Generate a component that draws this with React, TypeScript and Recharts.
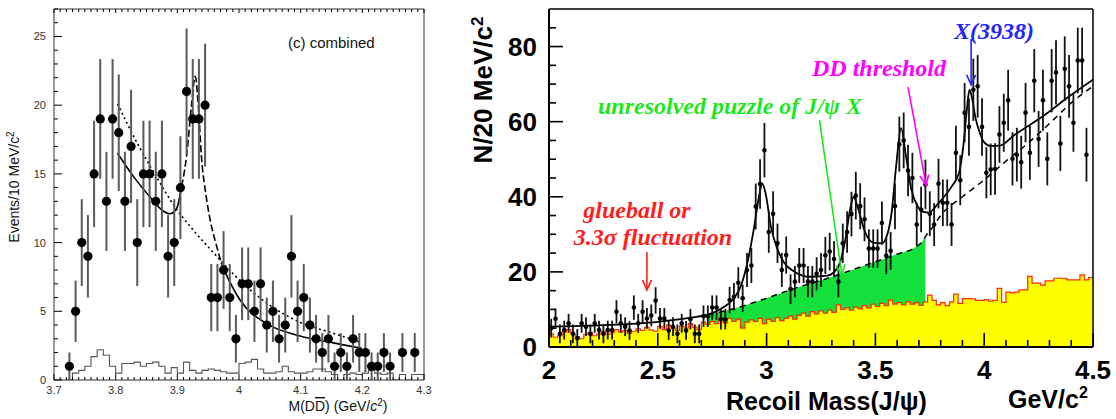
import React from 'react';
import { ComposedChart, XAxis, YAxis, Line, Area, Scatter, ErrorBar } from 'recharts';

const SANS = '"Liberation Sans", Arial, Helvetica, sans-serif';
const SERIF = '"Liberation Serif", "Times New Roman", serif';

// ---------- left panel: M(D Dbar), combined, 10 MeV/c^2 bins ----------
const leftMass = [
  3.725, 3.735, 3.745, 3.755, 3.765, 3.775, 3.785, 3.795, 3.805, 3.815,
  3.825, 3.835, 3.845, 3.855, 3.865, 3.875, 3.885, 3.895, 3.905, 3.915,
  3.925, 3.935, 3.945, 3.955, 3.965, 3.975, 3.985, 3.995, 4.005, 4.015,
  4.025, 4.035, 4.045, 4.055, 4.065, 4.075, 4.085, 4.095, 4.105, 4.115,
  4.125, 4.135, 4.145, 4.155, 4.165, 4.175, 4.185, 4.195, 4.205, 4.215,
  4.225, 4.235, 4.245, 4.265, 4.285,
];
const leftEvents = [
  1, 5, 10, 9, 15, 19, 13, 19, 18, 13,
  17, 10, 15, 15, 13, 15, 9, 10, 14, 21,
  19, 19, 20, 6, 6, 8, 6, 3, 7, 7,
  5, 7, 4, 5, 3, 4, 9, 5, 6, 4,
  3, 2, 3, 1, 2, 1, 3, 2, 2, 1,
  1, 2, 1, 2, 2,
];
// sideband histogram, bins from 3.72 in 10 MeV steps
const leftSideband = [
  0, 0.5, 0.7, 1.0, 1.7, 2.2, 1.8, 1.0, 0.5, 1.2,
  1.2, 1.3, 1.0, 1.2, 1.3, 1.0, 0.5, 0.9, 0.5, 1.3,
  0.7, 0.5, 0.7, 0.8, 0.7, 0.6, 0.5, 0.5, 1.2, 1.3,
  1.5, 0.8, 0.5, 0.5, 0.6, 1.0, 0.6, 0.5, 0.5, 0.6,
  0.8, 0.8, 0.6, 0.4, 0, 0.4, 0.5, 0.4, 0.5, 0.7,
  0.5, 0.4, 0.5, 0, 0.4, 0, 0.4, 0.4,
];
const leftFitLowX = [3.803, 3.829, 3.856, 3.877, 3.888, 3.899, 3.907];
const leftFitLowY = [16.5, 14.8, 13.3, 12.3, 12.1, 12.5, 14.1];
const leftFitPeakX = [3.907, 3.915, 3.923, 3.929, 3.934, 3.939, 3.946, 3.953, 3.964, 3.972];
const leftFitPeakY = [14.1, 16.3, 20.0, 22.1, 20.0, 16.3, 13.6, 11.7, 9.7, 8.4];
const leftFitTailX = [3.972, 3.976, 4.002, 4.045, 4.099, 4.153, 4.199];
const leftFitTailY = [8.4, 8.0, 5.8, 4.1, 3.2, 2.7, 2.3];
const leftAltX = [3.803, 3.839, 3.866, 3.893, 3.926, 3.96, 4.0, 4.045, 4.099, 4.153, 4.199];
const leftAltY = [20.1, 16.9, 14.8, 12.8, 10.9, 9.2, 7.3, 5.6, 4.2, 3.4, 2.7];

const leftXMajor = [3.7, 3.8, 3.9, 4.0, 4.1, 4.2, 4.3];
const leftYMajor = [0, 5, 10, 15, 20, 25];

// ---------- right panel: recoil mass against J/psi, 20 MeV/c^2 bins from 2.00 ----------
const rightEvents: (number | null)[] = [
  5, 7.5, 3.5, 4.5, 6.3, 3.5, 2.3, 6.3, 5.4, 3.5,
  6.3, 4.5, 3.5, 4.5, 4.5, 9.4, 6.3, 5.4, 4.4, 10.5,
  6.3, 9.4, 7.6, 8.4, 12.4, 7.6, 7.6, 4.4, 5.4, 3.5,
  6.3, 4.4, 7.4, 3.5, 3.5, 8.2, 8.2, 10.5, 10.5, 7.4,
  7.4, 12.5, 13.4, 17.1, 13, 20.5, 21.7, 37.4, 43.4, 52.4,
  30.6, 35.5, 27.6, 20.5, 24.5, 15.4, 17.4, 21.7, 21.7, 17.4,
  17.4, 19.5, 20.5, 24.4, 25.4, 23.4, 17.4, 27.6, 30.6, 35.4,
  40.3, 37.5, 34, 26.2, 26.2, 26.2, 33, 24.3, 25.6, 37.5,
  54, 55, 47, 45, 32.6, 36.6, 43.3, 35.5, 32.6, 43.5,
  38.4, 38.4, 32.6, 51.7, 44.4, 62.4, 58.6, 68.5, 69.4, 58.6,
  46.4, 47.3, 47.4, 56.6, 59.7, 65.7, 50.1, 51.2, 49.2, 62.4,
  51.7, 70.9, 55.4, 65.7, 50.1, 70.9, 73.1, 54.2, 74.1, 69.4,
  59.7, 76.3, 76.3, 51.2, null,
];
const rightSideband = [
  3.5, 2.6, 3.0, 4.0, 4.6, 3.6, 2.8, 2.2, 3.4, 3.9,
  3.0, 3.5, 4.2, 3.4, 3.8, 4.6, 4.0, 4.4, 3.6, 4.2,
  4.8, 4.4, 5.2, 4.5, 4.2, 5.5, 4.6, 5.8, 5.0, 4.4,
  5.6, 5.0, 6.2, 5.3, 4.6, 6.6, 6.0, 6.8, 6.2, 7.4,
  6.4, 7.6, 6.8, 7.4, 5.0, 6.6, 7.2, 6.8, 7.6, 6.2,
  7.4, 6.8, 7.8, 7.0, 7.6, 8.2, 7.4, 8.4, 9.0, 8.2,
  9.4, 8.8, 9.6, 9.0, 9.8, 9.2, 11.2, 10.0, 10.4, 9.8,
  10.6, 10.2, 11.0, 10.4, 11.4, 10.8, 11.6, 11.0, 12.5, 11.4,
  11.8, 11.2, 12.0, 11.4, 11.8, 11.1, 12.0, 13.8, 12.4, 11.2,
  11.8, 11.0, 12.0, 14.1, 11.6, 12.9, 12.9, 12.8, 12.4, 12.4,
  12.6, 12.2, 12.4, 15.6, 11.9, 14.6, 14.4, 14.6, 15.2, 15.2,
  18.8, 17.0, 17.0, 16.5, 17.6, 17.6, 18.3, 18.3, 18.3, 17.9,
  17.9, 17.9, 19.2, 17.9, 18.5,
];
const rightFitX = [
  2.0, 2.25, 2.5, 2.65, 2.75, 2.8, 2.85, 2.88, 2.91, 2.94, 2.965, 2.98, 2.995,
  3.02, 3.05, 3.08, 3.13, 3.2, 3.28, 3.33, 3.36, 3.385, 3.4, 3.42, 3.45, 3.49,
  3.53, 3.555, 3.575, 3.595, 3.618, 3.64, 3.665, 3.695, 3.72, 3.745, 3.79, 3.85,
  3.885, 3.905, 3.92, 3.932, 3.945, 3.96, 3.98, 4.0, 4.03, 4.07, 4.14, 4.225,
  4.3, 4.38, 4.5,
];
const rightFitY = [
  5.4, 5.8, 6.7, 7.8, 9.0, 10.5, 13, 16, 22, 31, 40, 43.5, 41,
  32, 26, 22.5, 20, 18.7, 19, 21.5, 28, 37, 40, 37, 31, 27.8,
  27.6, 30, 36, 48, 58.3, 51, 42, 37.4, 36, 35.8, 38.3, 42.7,
  46.5, 54, 63, 68.5, 66, 61, 57, 54.5, 53.5, 53.6, 56.5, 59.7,
  62.7, 66.3, 71.2,
];
const rightBkgX = [2.73, 2.83, 2.975, 3.128, 3.281, 3.435, 3.588, 3.695, 3.715, 3.73, 3.766, 3.8, 3.9, 4.0, 4.1, 4.2, 4.3, 4.4, 4.5];
const rightBkgY = [8.6, 9.9, 12.5, 15.6, 18.3, 21.4, 24.5, 27.0, 28.0, 29.4, 32.1, 35, 40, 44.5, 49.5, 54.2, 59.5, 65, 69.4];
const greenEnd = 3.73;

const rightXMajor = [2, 2.5, 3, 3.5, 4, 4.5];
const rightYMajor = [0, 20, 40, 60, 80];

// ---------- derived tables ----------
const leftPoints = leftMass.map((x, i) => ({ x, y: leftEvents[i], e: Math.sqrt(leftEvents[i]) }));
const leftHist = leftSideband
  .map((y, i) => ({ x: 3.72 + 0.01 * i, y }))
  .concat([{ x: 4.3, y: leftSideband[leftSideband.length - 1] }]);
const pairs = (xs: number[], ys: number[]) => xs.map((x, i) => ({ x, y: ys[i] }));
const leftFitLow = pairs(leftFitLowX, leftFitLowY);
const leftFitPeak = pairs(leftFitPeakX, leftFitPeakY);
const leftFitTail = pairs(leftFitTailX, leftFitTailY);
const leftAlt = pairs(leftAltX, leftAltY);

const rightPoints = rightEvents
  .map((y, i) => ({ x: 2.01 + 0.02 * i, y, e: y == null ? 0 : Math.max(2.5, Math.sqrt(y)) }))
  .filter((p) => p.y != null);
const rightHist = rightSideband
  .map((y, i) => ({ x: 2 + 0.02 * i, y }))
  .concat([{ x: 4.5, y: rightSideband[rightSideband.length - 1] }]);
const rightFit = pairs(rightFitX, rightFitY);
const rightBkg = pairs(rightBkgX, rightBkgY);
const rightGreen = rightBkg.filter((p) => p.x <= greenEnd + 1e-9);

const steps = (a: number, b: number, d: number) => {
  const n = Math.round((b - a) / d);
  return Array.from({ length: n + 1 }, (_, i) => +(a + i * d).toFixed(3));
};

// ---------- tick drawing (ROOT style: ticks point into the frame) ----------
const isMajor = (v: number, majors: number[]) => majors.some((m) => Math.abs(m - v) < 1e-6);

type TickOpts = {
  side: 'left' | 'bottom' | 'top';
  majors: number[];
  majorLen: number;
  minorLen: number;
  gap: number;
  label: boolean;
  fontSize: number;
  weight: string | number;
  color: string;
  strokeWidth: number;
};

const makeTick = (o: TickOpts) => (p: any) => {
  const { x, y } = p;
  const v = p.payload.value;
  const major = isMajor(v, o.majors);
  const len = major ? o.majorLen : o.minorLen;
  const txt = String(v);
  if (o.side === 'left') {
    return (
      <g>
        <line x1={x} y1={y} x2={x + len} y2={y} stroke="#000" strokeWidth={o.strokeWidth} />
        {major && o.label && (
          <text x={x - o.gap} y={y} textAnchor="end" dominantBaseline="central"
            fontSize={o.fontSize} fontWeight={o.weight} fontFamily={SANS} fill={o.color}>{txt}</text>
        )}
      </g>
    );
  }
  if (o.side === 'top') {
    return <line x1={x} y1={y} x2={x} y2={y + len} stroke="#000" strokeWidth={o.strokeWidth} />;
  }
  return (
    <g>
      <line x1={x} y1={y} x2={x} y2={y - len} stroke="#000" strokeWidth={o.strokeWidth} />
      {major && o.label && (
        <text x={x} y={y + o.gap} textAnchor="middle"
          fontSize={o.fontSize} fontWeight={o.weight} fontFamily={SANS} fill={o.color}>{txt}</text>
      )}
    </g>
  );
};

const bigDot = (p: any) => <circle cx={p.cx} cy={p.cy} r={4.6} fill="#000" />;
const smallDot = (p: any) => <circle cx={p.cx} cy={p.cy} r={2.3} fill="#000" />;

// right plot frame in page pixels, used for the annotation layer
const RX0 = 549, RX1 = 1093, RY0 = 347, RY1 = 9;
const rx = (x: number) => RX0 + ((x - 2) / 2.5) * (RX1 - RX0);
const ry = (y: number) => RY0 - (y / 90) * (RY0 - RY1);

const Arrow = ({ x1, y1, x2, y2, color }: { x1: number; y1: number; x2: number; y2: number; color: string }) => {
  const a = Math.atan2(y2 - y1, x2 - x1);
  const L = 11, w = 0.42;
  const h1 = [x2 - L * Math.cos(a - w), y2 - L * Math.sin(a - w)];
  const h2 = [x2 - L * Math.cos(a + w), y2 - L * Math.sin(a + w)];
  return (
    <g stroke={color} strokeWidth={1.6} fill="none">
      <line x1={x1} y1={y1} x2={x2} y2={y2} />
      <polyline points={`${h1[0]},${h1[1]} ${x2},${y2} ${h2[0]},${h2[1]}`} />
    </g>
  );
};

const LeftChart = () => (
  <ComposedChart width={440} height={419} margin={{ top: 8, right: 15, bottom: 38, left: 0 }}>
    <Line data={leftHist} dataKey="y" type="stepAfter" stroke="#555" strokeWidth={1.1} dot={false} isAnimationActive={false} />
    <Line data={leftAlt} dataKey="y" type="monotone" stroke="#000" strokeWidth={1.6} strokeDasharray="2 3" dot={false} isAnimationActive={false} />
    <Line data={leftFitLow} dataKey="y" type="monotone" stroke="#000" strokeWidth={1.6} dot={false} isAnimationActive={false} />
    <Line data={leftFitPeak} dataKey="y" type="monotone" stroke="#000" strokeWidth={1.6} strokeDasharray="7 3" dot={false} isAnimationActive={false} />
    <Line data={leftFitTail} dataKey="y" type="monotone" stroke="#000" strokeWidth={1.6} dot={false} isAnimationActive={false} />
    <Scatter data={leftPoints} dataKey="y" shape={bigDot} isAnimationActive={false}>
      <ErrorBar dataKey="e" direction="y" width={0} stroke="#5a5a5a" strokeWidth={2} isAnimationActive={false} />
    </Scatter>
    <XAxis dataKey="x" type="number" domain={[3.7, 4.3]} allowDataOverflow ticks={steps(3.7, 4.3, 0.01)} interval={0}
      height={1} tickSize={0} tickMargin={0} tickLine={false} stroke="#333"
      tick={makeTick({ side: 'bottom', majors: leftXMajor, majorLen: 6, minorLen: 3, gap: 14, label: true, fontSize: 11, weight: 400, color: '#333', strokeWidth: 1 })} />
    <XAxis xAxisId="t" orientation="top" dataKey="x" type="number" domain={[3.7, 4.3]} allowDataOverflow ticks={steps(3.7, 4.3, 0.01)} interval={0}
      height={1} tickSize={0} tickMargin={0} tickLine={false} stroke="#333"
      tick={makeTick({ side: 'top', majors: leftXMajor, majorLen: 4, minorLen: 3, gap: 0, label: false, fontSize: 11, weight: 400, color: '#333', strokeWidth: 1 })} />
    <YAxis type="number" domain={[0, 27]} allowDataOverflow ticks={steps(0, 27, 1)} interval={0}
      width={54} tickSize={0} tickMargin={0} tickLine={false} stroke="#333"
      tick={makeTick({ side: 'left', majors: leftYMajor, majorLen: 8, minorLen: 4, gap: 8, label: true, fontSize: 11, weight: 400, color: '#333', strokeWidth: 1 })} />
    <YAxis yAxisId="r" orientation="right" type="number" domain={[0, 27]} width={1} tick={false} tickLine={false} stroke="#333" />
  </ComposedChart>
);

const RightChart = () => (
  <ComposedChart width={616} height={419} margin={{ top: 8, right: 22, bottom: 71, left: 0 }}>
    <Area data={rightGreen} dataKey="y" type="monotone" fill="#14e03c" fillOpacity={1} stroke="none" isAnimationActive={false} />
    <Area data={rightHist} dataKey="y" type="stepAfter" fill="#ffff00" fillOpacity={1} stroke="#ff2a00" strokeWidth={1.2} isAnimationActive={false} />
    <Line data={rightBkg} dataKey="y" type="monotone" stroke="#000" strokeWidth={1.5} strokeDasharray="6 5" dot={false} isAnimationActive={false} />
    <Line data={rightFit} dataKey="y" type="monotone" stroke="#000" strokeWidth={1.8} dot={false} isAnimationActive={false} />
    <Scatter data={rightPoints} dataKey="y" shape={smallDot} isAnimationActive={false}>
      <ErrorBar dataKey="e" direction="y" width={0} stroke="#111" strokeWidth={1.8} isAnimationActive={false} />
    </Scatter>
    <XAxis dataKey="x" type="number" domain={[2, 4.5]} allowDataOverflow ticks={steps(2, 4.5, 0.1)} interval={0}
      height={1} tickSize={0} tickMargin={0} tickLine={false} stroke="#000" strokeWidth={2}
      tick={makeTick({ side: 'bottom', majors: rightXMajor, majorLen: 14, minorLen: 7, gap: 32, label: true, fontSize: 26, weight: 700, color: '#000', strokeWidth: 1.6 })} />
    <XAxis xAxisId="t" orientation="top" type="number" domain={[2, 4.5]} height={1} tick={false} tickLine={false} stroke="#000" strokeWidth={1.5} />
    <YAxis type="number" domain={[0, 90]} allowDataOverflow ticks={steps(0, 85, 5)} interval={0}
      width={49} tickSize={0} tickMargin={0} tickLine={false} stroke="#000" strokeWidth={2}
      tick={makeTick({ side: 'left', majors: rightYMajor, majorLen: 14, minorLen: 7, gap: 12, label: true, fontSize: 26, weight: 700, color: '#000', strokeWidth: 1.6 })} />
    <YAxis yAxisId="r" orientation="right" type="number" domain={[0, 90]} width={1} tick={false} tickLine={false} stroke="#000" strokeWidth={1.5} />
  </ComposedChart>
);

const Annotations = () => {
  const ann = { fontFamily: SERIF, fontWeight: 700, fontStyle: 'italic', fontSize: 24 } as const;
  return (
    <svg width={1116} height={419} style={{ position: 'absolute', left: 0, top: 0, pointerEvents: 'none' }}>
      {/* left panel */}
      <text x={288} y={48} fontFamily={SANS} fontSize={15} fill="#111">(c) combined</text>
      <text transform="translate(19,187) rotate(-90)" textAnchor="middle" fontFamily={SANS} fontSize={14} fill="#111">
        Events/10 MeV/c<tspan dy={-5} fontSize={10}>2</tspan>
      </text>
      <text x={338} y={411} textAnchor="middle" fontFamily={SANS} fontSize={14} fill="#111">
        M(D<tspan style={{ textDecoration: 'overline' }}>D</tspan>) (GeV/<tspan fontStyle="italic">c</tspan>
        <tspan dy={-5} fontSize={10}>2</tspan><tspan dy={5}>)</tspan>
      </text>

      {/* right panel axis titles */}
      <text transform="translate(492,90) rotate(-90)" textAnchor="middle" fontFamily={SANS} fontWeight={700} fontSize={26} fill="#000">
        N/20 MeV/c<tspan dy={-9} fontSize={17}>2</tspan>
      </text>
      <text x={726} y={410} fontFamily={SANS} fontWeight={700} fontSize={25} fill="#000">Recoil Mass(J/ψ)</text>
      <text x={1008} y={408} fontFamily={SANS} fontWeight={700} fontSize={25} fill="#000">
        GeV/c<tspan dy={-10} fontSize={16}>2</tspan>
      </text>

      {/* right panel annotations */}
      <text x={994} y={39} textAnchor="middle" {...ann} fill="#2424ff">X(3938)</text>
      <Arrow x1={rx(3.94)} y1={ry(82)} x2={rx(3.94)} y2={ry(69.8)} color="#2424ff" />
      <text x={879} y={76} textAnchor="middle" {...ann} fill="#ff00ff">DD threshold</text>
      <Arrow x1={rx(3.65)} y1={ry(69.2)} x2={rx(3.733)} y2={ry(43.1)} color="#ff00ff" />
      <text x={730} y={114} textAnchor="middle" {...ann} fill="#1ee61e">unresolved puzzle of J/ψ X</text>
      <Arrow x1={rx(3.243)} y1={ry(60.4)} x2={rx(3.346)} y2={ry(19.2)} color="#1ee61e" />
      <text x={637} y={218} textAnchor="middle" {...ann} fill="#ff1e1e">glueball or</text>
      <text x={653} y={245} textAnchor="middle" {...ann} fill="#ff1e1e">3.3σ fluctuation</text>
      <Arrow x1={rx(2.45)} y1={ry(25.3)} x2={rx(2.45)} y2={ry(15.2)} color="#ff1e1e" />
    </svg>
  );
};

export default function App() {
  return (
    <div style={{ position: 'absolute', left: 0, top: 0, width: 1116, height: 419, background: '#fff', overflow: 'hidden' }}>
      <div style={{ position: 'absolute', left: 0, top: 0 }}>
        <LeftChart />
      </div>
      <div style={{ position: 'absolute', left: 500, top: 0 }}>
        <RightChart />
      </div>
      <Annotations />
    </div>
  );
}
